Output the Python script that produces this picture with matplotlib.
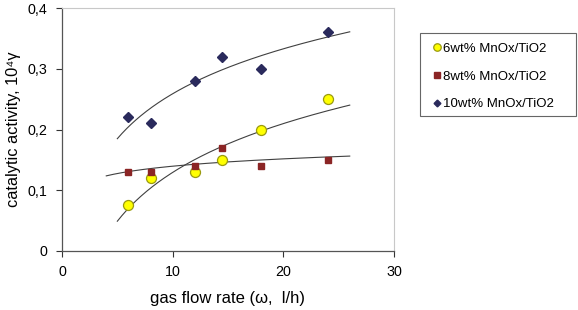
import numpy as np
import matplotlib
matplotlib.use("Agg")
import matplotlib.pyplot as plt
from matplotlib.ticker import FuncFormatter
from matplotlib.patches import Rectangle

plt.rcParams['font.family'] = ['Liberation Sans', 'DejaVu Sans']

# data
flow = [6, 8, 12, 14.5, 18, 24]
mn6 = [0.075, 0.12, 0.13, 0.15, 0.20, 0.25]
mn8 = [0.13, 0.13, 0.14, 0.17, 0.14, 0.15]
mn10 = [0.22, 0.21, 0.28, 0.32, 0.30, 0.36]
labels = ['6wt% MnOx/TiO2', '8wt% MnOx/TiO2', '10wt% MnOx/TiO2']
trend_start = [5, 4, 5]
trend_end = 26

W, H = 578, 310
fig = plt.figure(figsize=(W/100, H/100), dpi=100)
ax = fig.add_axes([62/W, 1-251/H, (394-62)/W, (251-8)/H])

series = [
    (mn6, dict(marker='o', ms=7.2, mfc='#FFFF00', mec='#9A9A10', mew=0.9, ls='none')),
    (mn8, dict(marker='s', ms=5.0, mfc='#8B2525', mec='#8B2525', ls='none')),
    (mn10, dict(marker='D', ms=4.6, mfc='#2A2A5C', mec='#2A2A5C', ls='none')),
]
handles = []
lx = np.log(np.array(flow, dtype=float))
for (vals, style), lab, x0 in zip(series, labels, trend_start):
    b, a = np.polyfit(lx, np.array(vals), 1)
    xs = np.linspace(x0, trend_end, 200)
    ax.plot(xs, a + b * np.log(xs), color='#404040', lw=0.8, zorder=2)
    h, = ax.plot(flow, vals, label=lab, zorder=3, **style)
    handles.append(h)

ax.set_xlim(0, 30)
ax.set_ylim(0, 0.4)
ax.set_xticks([0, 10, 20, 30])
ax.set_yticks([0, 0.1, 0.2, 0.3, 0.4])
ax.yaxis.set_major_formatter(FuncFormatter(lambda v, p: '0' if v == 0 else f'{v:.1f}'.replace('.', ',')))
ax.tick_params(direction='out', length=4, width=0.8, labelsize=10.3, colors='#333333', labelcolor='black')
ax.tick_params(axis='x', pad=6)
ax.tick_params(axis='y', pad=6.5)

for s in ['left', 'bottom']:
    ax.spines[s].set_color('#555555')
    ax.spines[s].set_linewidth(0.9)
for s in ['top', 'right']:
    ax.spines[s].set_color('#C8C8C8')
    ax.spines[s].set_linewidth(0.8)

ax.set_xlabel('gas flow rate (ω,  l/h)', fontsize=12, labelpad=9)
ax.set_ylabel('catalytic activity, 10⁴γ', fontsize=11.8, labelpad=5)

# legend frame
fig.patches.append(Rectangle((420/W, 1-116/H), (576-420)/W, (116-33)/H,
                             transform=fig.transFigure, fill=False,
                             edgecolor='#666666', lw=0.8, zorder=5))
leg = fig.legend(handles=handles, loc='upper left', bbox_to_anchor=(427/W, 1-36/H),
                 fontsize=9.5, frameon=False,
                 handlelength=0.5, handletextpad=0.2, labelspacing=1.18,
                 borderpad=0.0, markerscale=0.75)

fig.savefig('out.png', dpi=100)
